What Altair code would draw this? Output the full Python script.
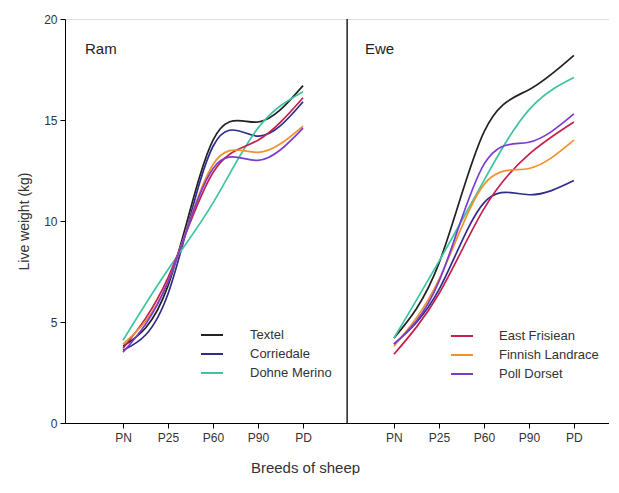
import altair as alt
import pandas as pd

stages = ["PN", "P25", "P60", "P90", "PD"]
breeds = ["Textel", "Corriedale", "Dohne Merino", "East Frisiean", "Finnish Landrace", "Poll Dorset"]
colors = ["#222222", "#2f2c8c", "#3ec4a2", "#c4204c", "#f0922c", "#7b3bd0"]
panels = ["Ram", "Ewe"]

# Live weight (kg), one list per breed, PN..PD
ram_textel = [3.8, 6.8, 14.0, 14.9, 16.7]
ram_corriedale = [3.6, 6.4, 13.7, 14.2, 15.9]
ram_dohne = [4.1, 7.6, 10.9, 14.6, 16.4]
ram_eastfris = [3.7, 7.2, 12.4, 14.0, 16.1]
ram_finnish = [3.9, 7.0, 12.8, 13.4, 14.7]
ram_polldorset = [3.5, 7.0, 12.6, 13.0, 14.6]

ewe_textel = [4.2, 7.9, 14.4, 16.5, 18.2]
ewe_corriedale = [3.9, 6.6, 10.9, 11.3, 12.0]
ewe_dohne = [4.2, 8.0, 12.0, 15.5, 17.1]
ewe_eastfris = [3.4, 6.4, 10.6, 13.3, 14.9]
ewe_finnish = [3.8, 7.1, 11.8, 12.6, 14.0]
ewe_polldorset = [3.9, 7.0, 12.8, 13.9, 15.3]

ram = dict(zip(breeds, [ram_textel, ram_corriedale, ram_dohne, ram_eastfris, ram_finnish, ram_polldorset]))
ewe = dict(zip(breeds, [ewe_textel, ewe_corriedale, ewe_dohne, ewe_eastfris, ewe_finnish, ewe_polldorset]))

# layout of the two panels on one shared x scale (stage index units)
X_START = -1.29
DIVIDER = 4.98
EWE_SHIFT = 6.02
X_END = 10.80

rows = []
for sex, table, shift in (("Ram", ram, 0.0), ("Ewe", ewe, EWE_SHIFT)):
    for b in breeds:
        for i, v in enumerate(table[b]):
            rows.append(dict(sex=sex, breed=b, idx=i, x=i + shift, stage=stages[i], weight=v))
df = pd.DataFrame(rows)

tick_vals = [i for i in range(len(stages))] + [i + EWE_SHIFT for i in range(len(stages))]
label_list = "[" + ",".join("'%s'" % s for s in stages) + "]"
label_expr = "%s[round(datum.value > %f ? datum.value - %f : datum.value)]" % (
    label_list, DIVIDER, EWE_SHIFT)

FONT = "Liberation Sans"
TXT = "#333333"

xscale = alt.Scale(domain=[X_START, X_END], nice=False, zero=False)
yscale = alt.Scale(domain=[0, 20], nice=False)

xaxis = alt.Axis(values=tick_vals, labelExpr=label_expr, title="Breeds of sheep", grid=False,
                 tickSize=5, labelPadding=4, labelFontSize=12, labelFont=FONT,
                 domainColor="black", tickColor="black", labelColor=TXT,
                 titleFont=FONT, titleFontSize=15, titleFontWeight="normal", titleColor=TXT,
                 titlePadding=17, titleX=240)
yaxis = alt.Axis(values=[0, 5, 10, 15, 20], title="Live weight (kg)", grid=False,
                 tickSize=5, labelPadding=3, titlePadding=12, labelFontSize=12,
                 titleFontSize=14, titleFontWeight="normal", labelFont=FONT,
                 titleFont=FONT, domainColor="black", tickColor="black",
                 labelColor=TXT, titleColor=TXT)


def lines(sex, legend_breeds, lx, ly, loff):
    return alt.Chart(df[df.sex == sex]).mark_line(interpolate="natural", strokeWidth=1.7).encode(
        x=alt.X("x:Q", scale=xscale, axis=xaxis),
        y=alt.Y("weight:Q", scale=yscale, axis=yaxis),
        detail="breed:N",
        color=alt.Color("breed:N", scale=alt.Scale(domain=breeds, range=colors),
                        legend=alt.Legend(values=legend_breeds, orient="none", legendX=lx,
                                          legendY=ly, title=None, symbolType="stroke",
                                          symbolSize=484, symbolStrokeWidth=2,
                                          labelOffset=loff, labelFontSize=13, labelFont=FONT,
                                          labelColor=TXT, rowPadding=0, padding=0,
                                          labelLimit=300)),
    )


ram_lines = lines("Ram", breeds[:3], 135, 304, 26)
ewe_lines = lines("Ewe", breeds[3:], 385, 305, 25)

divider = alt.Chart(pd.DataFrame({"d": [DIVIDER]})).mark_rule(color="black", strokeWidth=1.3).encode(
    x=alt.X("d:Q", scale=xscale, axis=xaxis))


def panel_label(i, px):
    return alt.Chart(pd.DataFrame({"t": [panels[i]]})).mark_text(
        align="left", baseline="middle", fontSize=15, font=FONT, color="#222222"
    ).encode(x=alt.value(px), y=alt.value(30), text="t:N")


chart = alt.layer(ram_lines, ewe_lines, divider, panel_label(0, 20), panel_label(1, 300)).resolve_scale(
    color="independent"
).resolve_legend(color="independent").properties(
    width=544, height=404,
    padding={"left": 9, "top": 5, "right": 0, "bottom": 0},
).configure_view(stroke="black", strokeWidth=1.3).configure(background="white")

chart.save("out.html", embed_options={"renderer": "svg", "actions": False})
